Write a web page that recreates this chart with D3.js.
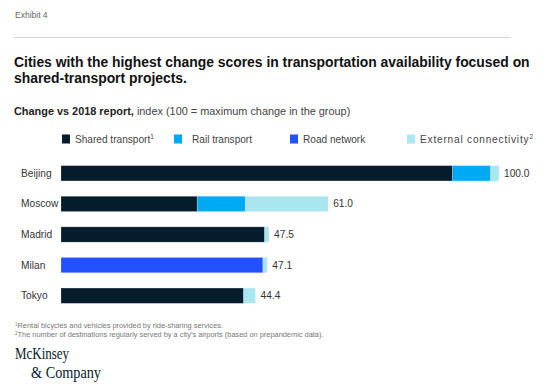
<!DOCTYPE html>
<html><head><meta charset="utf-8">
<script src="https://cdn.jsdelivr.net/npm/d3@7"></script>
<style>body{margin:0;background:#fff}svg{display:block}</style>
</head><body>
<svg id="c" width="558" height="392"></svg>
<script>
const cities = ["Beijing", "Moscow", "Madrid", "Milan", "Tokyo"];
const seriesNames = ["Shared transport", "Rail transport", "Road network", "External connectivity"];
const seriesSup = ["1", "", "", "2"];
const sharedTransport = [89.4, 31.1, 46.5, 0, 41.7];
const railTransport = [8.7, 11.0, 0, 0, 0];
const roadNetwork = [0, 0, 0, 46.1, 0];
const externalConnectivity = [1.9, 18.9, 1.0, 1.0, 2.7];
const totals = ["100.0", "61.0", "47.5", "47.1", "44.4"];
const colors = ["#051c2c", "#00a9f4", "#2251ff", "#aae6f0"];

const svg = d3.select("#c");
const font = "'Liberation Sans', Arial, sans-serif";

svg.append("text").attr("x", 15).attr("y", 18).attr("font-family", font)
  .attr("font-size", 8.5).attr("fill", "#666").text("Exhibit 4");
svg.append("line").attr("x1", 14).attr("x2", 510).attr("y1", 37.5).attr("y2", 37.5)
  .attr("stroke", "#d0d0d0").attr("stroke-width", 1);

const title = ["Cities with the highest change scores in transportation availability focused on",
               "shared-transport projects."];
title.forEach((t, i) => svg.append("text").attr("x", 14).attr("y", 67 + i * 16)
  .attr("font-family", font).attr("font-weight", "bold").attr("font-size", 13.9)
  .attr("fill", "#111").text(t));

const sub = svg.append("text").attr("x", 14).attr("y", 115).attr("font-family", font)
  .attr("font-size", 10.9).attr("fill", "#222");
sub.append("tspan").attr("font-weight", "bold").text("Change vs 2018 report,");
sub.append("tspan").attr("fill", "#444").text(" index (100 = maximum change in the group)");

// legend
const legX = [62, 174, 290, 407];
seriesNames.forEach((n, i) => {
  svg.append("rect").attr("x", legX[i]).attr("y", 134.5).attr("width", 8).attr("height", 9)
    .attr("fill", colors[i]);
  const t = svg.append("text").attr("x", legX[i] + (i === 1 ? 18 : 13)).attr("y", 143)
    .attr("font-family", font).attr("font-size", 10.1).attr("fill", "#444")
    .attr("letter-spacing", i === 3 ? 0.8 : 0).text(n);
  if (seriesSup[i]) t.append("tspan").attr("font-size", 6.5).attr("dy", -4).text(seriesSup[i]);
});

// chart
const x = d3.scaleLinear().domain([0, 100]).range([61, 499]);
const y = d3.scaleBand().domain(cities).range([158, 311]).paddingInner(0.5).paddingOuter(0.25);

const rows = cities.map((c, i) => ({
  city: c,
  "Shared transport": sharedTransport[i],
  "Rail transport": railTransport[i],
  "Road network": roadNetwork[i],
  "External connectivity": externalConnectivity[i]
}));
const stack = d3.stack().keys(seriesNames)(rows);

const g = svg.append("g");
stack.forEach((layer, li) => {
  g.selectAll(null).data(layer.filter(d => d[1] - d[0] > 0)).enter().append("rect")
    .attr("x", d => x(d[0])).attr("width", d => x(d[1]) - x(d[0]))
    .attr("y", d => y(d.data.city)).attr("height", y.bandwidth())
    .attr("fill", colors[li]).attr("stroke", "#ffffff").attr("stroke-opacity", 0.35)
    .attr("stroke-width", 0.6);
});

cities.forEach((c, i) => {
  const end = stack[stack.length - 1][i][1];
  svg.append("text").attr("x", 21).attr("y", y(c) + y.bandwidth() / 2 + 3.5)
    .attr("font-family", font).attr("font-size", 10.2).attr("fill", "#333").text(c);
  svg.append("text").attr("x", x(end) + 5).attr("y", y(c) + y.bandwidth() / 2 + 3.5)
    .attr("font-family", font).attr("font-size", 10.2).attr("fill", "#333").text(totals[i]);
});

// footnotes
const notes = [["1", "Rental bicycles and vehicles provided by ride-sharing services."],
               ["2", "The number of destinations regularly served by a city\u2019s airports (based on prepandemic data)."]];
notes.forEach((n, i) => {
  const t = svg.append("text").attr("x", 15).attr("y", 328 + i * 8.5)
    .attr("font-family", font).attr("font-size", 7.4).attr("fill", "#777");
  t.append("tspan").attr("font-size", 4.5).attr("dy", -2).text(n[0]);
  t.append("tspan").attr("dy", 2).text(n[1]);
});

// logo
const serif = "'Liberation Serif', 'Times New Roman', serif";
svg.append("text").attr("x", 15).attr("y", 359).attr("font-family", serif)
  .attr("font-size", 16).attr("textLength", 54).attr("lengthAdjust", "spacingAndGlyphs")
  .attr("fill", "#051c2c").text("McKinsey");
svg.append("text").attr("x", 31).attr("y", 378).attr("font-family", serif)
  .attr("font-size", 16).attr("textLength", 70).attr("lengthAdjust", "spacingAndGlyphs")
  .attr("fill", "#051c2c").text("& Company");
</script>
</body></html>
